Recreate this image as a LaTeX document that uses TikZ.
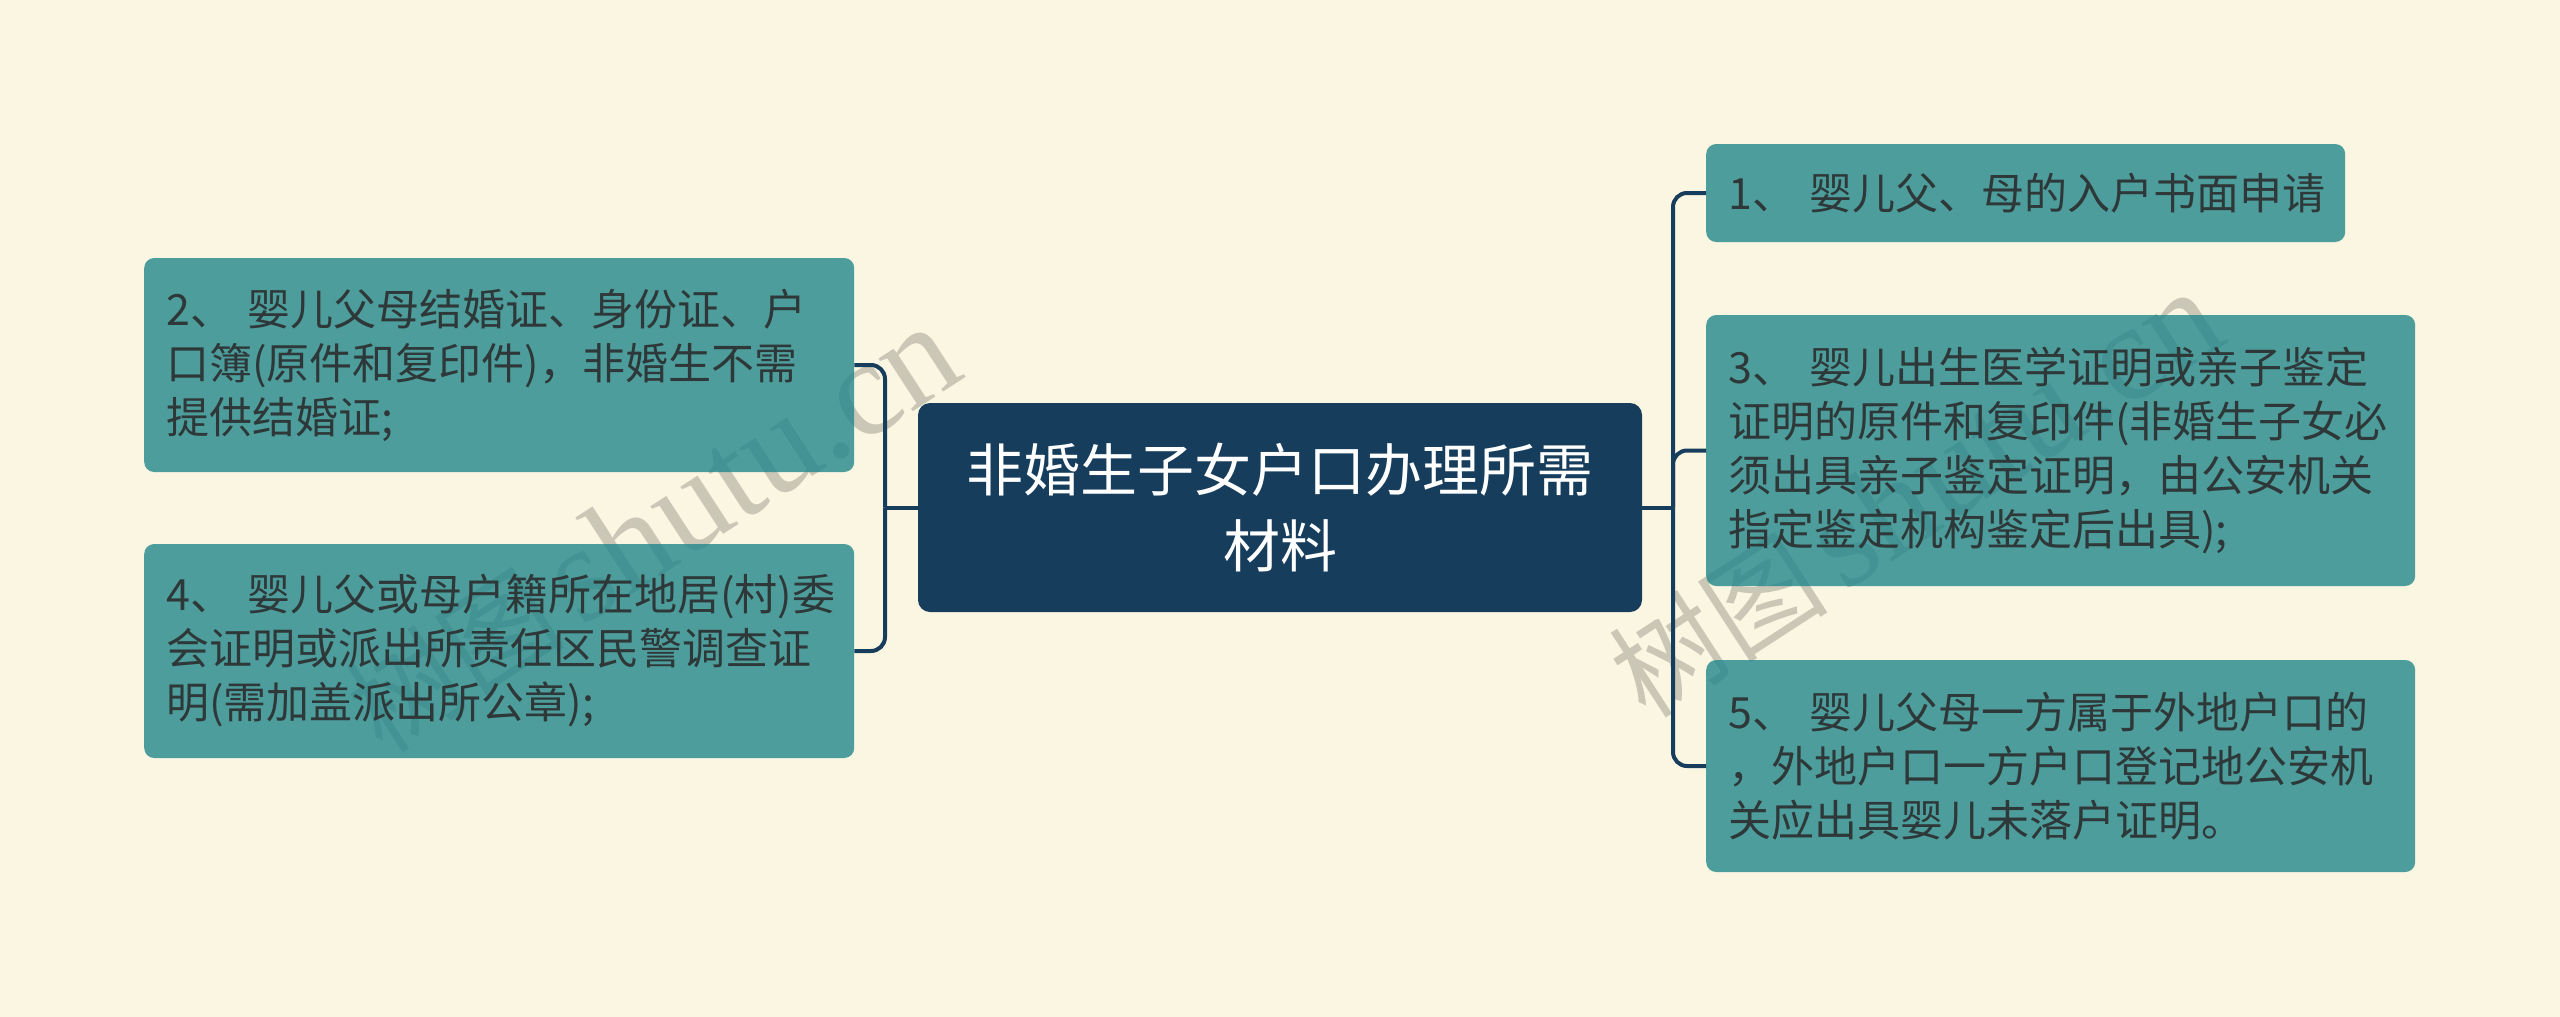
\documentclass[tikz,border=0pt]{standalone}
\usepackage{fontspec}
\newfontfamily\cjk{Noto Sans CJK SC}
\newfontfamily\wmserif{Liberation Serif}
\definecolor{bgc}{HTML}{FBF6E2}
\definecolor{tealbox}{HTML}{23878C}
\definecolor{navy}{HTML}{173D5D}
\definecolor{txtc}{HTML}{2E3838}
\definecolor{wmc}{HTML}{CBC7B6}
\begin{document}
\begin{tikzpicture}[x=1pt,y=-1pt,
  leaf/.style={rectangle, rounded corners=10pt, fill=tealbox, fill opacity=0.8,
    text opacity=1, text=txtc,
    font=\cjk\fontsize{43}{54}\selectfont, align=left, anchor=west,
    inner xsep=22pt, inner ysep=0pt},
  rootbox/.style={rectangle, rounded corners=12pt, fill=navy, text=white,
    font=\cjk\fontsize{57}{76}\selectfont, align=center,
    minimum width=724pt, minimum height=209pt, inner sep=0pt},
  conn/.style={draw=navy, line width=4pt},
  wm/.style={text=wmc, rotate=33, inner sep=0pt}]
\fill[bgc] (0,0) rectangle (2560,1017);
\useasboundingbox (0,0) rectangle (2560,1017);

\node[wm] (wm1) at (652,530) {{\cjk\fontsize{110}{110}\selectfont 树图}\hspace{16pt}{\wmserif\fontsize{137}{137}\selectfont shutu.cn}};
\node[wm] (wm2) at (1915,495) {{\cjk\fontsize{110}{110}\selectfont 树图}\hspace{16pt}{\wmserif\fontsize{137}{137}\selectfont shutu.cn}};

\node[rootbox] (root) at (1280,507.5) {非婚生子女户口办理所需\\材料};

\node[leaf, text width=666pt, minimum height=214pt] (b2) at (144,365)
  {2、 婴儿父母结婚证、身份证、户\\口簿(原件和复印件)，非婚生不需\\提供结婚证;};
\node[leaf, text width=666pt, minimum height=214pt] (b4) at (144,651)
  {4、 婴儿父或母户籍所在地居(村)委\\会证明或派出所责任区民警调查证\\明(需加盖派出所公章);};
\node[leaf, text width=595pt, minimum height=98pt] (b1) at (1706,193)
  {1、 婴儿父、母的入户书面申请};
\node[leaf, text width=665pt, minimum height=271pt] (b3) at (1706,450.5)
  {3、 婴儿出生医学证明或亲子鉴定\\证明的原件和复印件(非婚生子女必\\须出具亲子鉴定证明，由公安机关\\指定鉴定机构鉴定后出具);};
\node[leaf, text width=665pt, minimum height=212pt] (b5) at (1706,766)
  {5、 婴儿父母一方属于外地户口的\\，外地户口一方户口登记地公安机\\关应出具婴儿未落户证明。};

\coordinate (lj) at (885,507.5);
\coordinate (rj) at (1673,507.5);
\draw[conn] (root.west) -- (lj);
\draw[conn] (root.east) -- (rj);
\draw[conn, rounded corners=14pt] (lj) |- (b2.east);
\draw[conn, rounded corners=14pt] (lj) |- (b4.east);
\draw[conn, rounded corners=14pt] (rj) |- (b1.west);
\draw[conn, rounded corners=14pt] (rj) |- (b3.west);
\draw[conn, rounded corners=14pt] (rj) |- (b5.west);
\end{tikzpicture}
\end{document}
